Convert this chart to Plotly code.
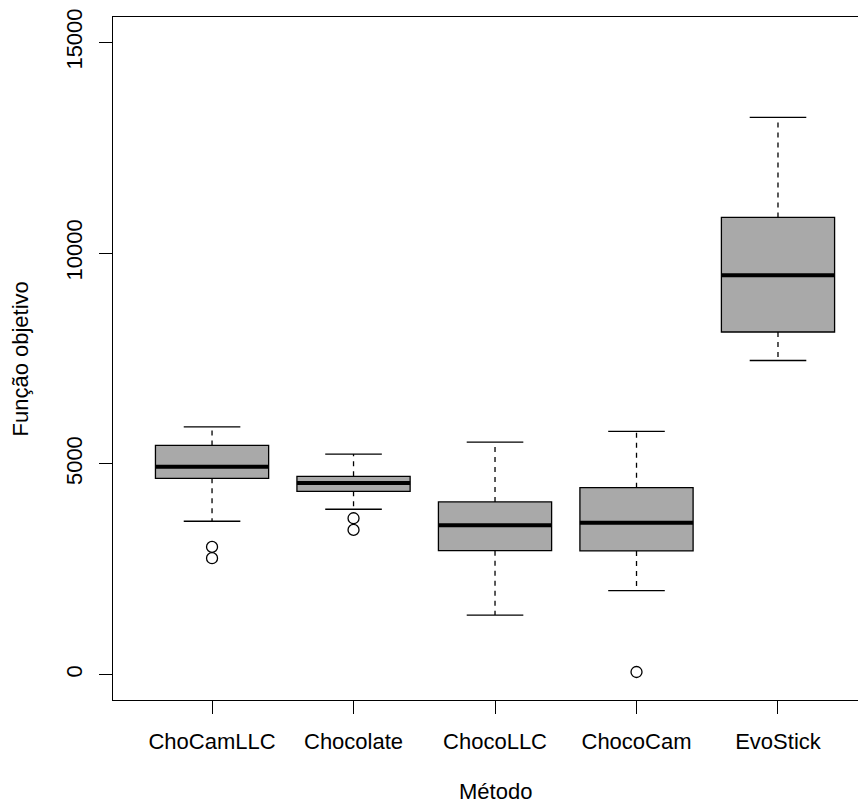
import plotly.graph_objects as go

# ---- data ----
methods = ["ChoCamLLC", "Chocolate", "ChocoLLC", "ChocoCam", "EvoStick"]
lower_whisker = [3640, 3924, 1414, 1996, 7452]
q1 = [4658, 4350, 2943, 2936, 8129]
median = [4933, 4547, 3545, 3606, 9472]
q3 = [5439, 4705, 4097, 4435, 10845]
upper_whisker = [5880, 5233, 5517, 5771, 13220]

outlier_method = ["ChoCamLLC", "ChoCamLLC", "Chocolate", "Chocolate", "ChocoCam"]
outlier_value = [3031, 2763, 3711, 3434, 64]

y_ticks = [0, 5000, 10000, 15000]

# ---- style ----
FONT = "Liberation Sans, Arial, Helvetica, sans-serif"
FS = 22
BOX_W = 0.8
STAPLE_W = 0.4
FILL = "#A9A9A9"

pos = list(range(1, len(methods) + 1))

fig = go.Figure()

# box bodies
fig.add_trace(go.Box(
    x=pos, q1=q1, median=median, q3=q3,
    lowerfence=q1, upperfence=q3,
    width=BOX_W, fillcolor=FILL,
    line=dict(color="black", width=1.3),
    whiskerwidth=0, boxpoints=False, showlegend=False, hoverinfo="skip",
))

# dashed whiskers
wx, wy = [], []
for p, a, b, c, d in zip(pos, lower_whisker, q1, q3, upper_whisker):
    wx += [p, p, None, p, p, None]
    wy += [c, d, None, b, a, None]
fig.add_trace(go.Scatter(x=wx, y=wy, mode="lines",
                         line=dict(color="black", width=1.3, dash="5px,5px"),
                         showlegend=False, hoverinfo="skip"))

# staples
sx, sy = [], []
for p, a, d in zip(pos, lower_whisker, upper_whisker):
    sx += [p - STAPLE_W / 2, p + STAPLE_W / 2, None, p - STAPLE_W / 2, p + STAPLE_W / 2, None]
    sy += [d, d, None, a, a, None]
fig.add_trace(go.Scatter(x=sx, y=sy, mode="lines",
                         line=dict(color="black", width=1.3),
                         showlegend=False, hoverinfo="skip"))

# thick medians
mx, my = [], []
for p, m in zip(pos, median):
    mx += [p - BOX_W / 2, p + BOX_W / 2, None]
    my += [m, m, None]
fig.add_trace(go.Scatter(x=mx, y=my, mode="lines",
                         line=dict(color="black", width=4),
                         showlegend=False, hoverinfo="skip"))

# outliers
ox = [pos[methods.index(m)] for m in outlier_method]
fig.add_trace(go.Scatter(x=ox, y=outlier_value, mode="markers",
                         marker=dict(symbol="circle-open", size=11, color="black",
                                     line=dict(width=1.3, color="black")),
                         showlegend=False, hoverinfo="skip"))

fig.update_layout(
    width=858, height=797,
    margin=dict(l=105, r=0, t=7, b=105),
    paper_bgcolor="white", plot_bgcolor="white",
    font=dict(family=FONT, size=FS, color="black"),
    showlegend=False,
    xaxis=dict(
        range=[0.3, 5.622], tickmode="array", tickvals=pos, ticktext=methods,
        showgrid=False, zeroline=False, showline=True, mirror=True,
        linecolor="black", linewidth=1.3,
        ticks="outside", ticklen=13, tickwidth=1.3, tickcolor="black",
        ticklabelstandoff=8, ticklabeloverflow="allow",
        tickfont=dict(family=FONT, size=FS, color="black"),
    ),
    yaxis=dict(
        range=[-600, 15600], tickmode="array", tickvals=y_ticks,
        ticktext=[str(v) for v in y_ticks],
        showgrid=False, zeroline=False, showline=True, mirror=False,
        linecolor="black", linewidth=1.3,
        ticks="outside", ticklen=13, tickwidth=1.3, tickcolor="black",
        tickangle=-90, ticklabelstandoff=8, ticklabeloverflow="allow",
        tickfont=dict(family=FONT, size=FS, color="black"),
    ),
    annotations=[
        dict(text="Método", xref="x", yref="paper", x=3.0, y=-0.1343,
             xanchor="center", yanchor="middle", showarrow=False,
             font=dict(family=FONT, size=FS, color="black")),
        dict(text="Função objetivo", xref="paper", yref="paper", x=-0.1222, y=0.5,
             xanchor="center", yanchor="middle", textangle=-90, showarrow=False,
             font=dict(family=FONT, size=FS, color="black")),
    ],
)

fig.write_html("out.html")
